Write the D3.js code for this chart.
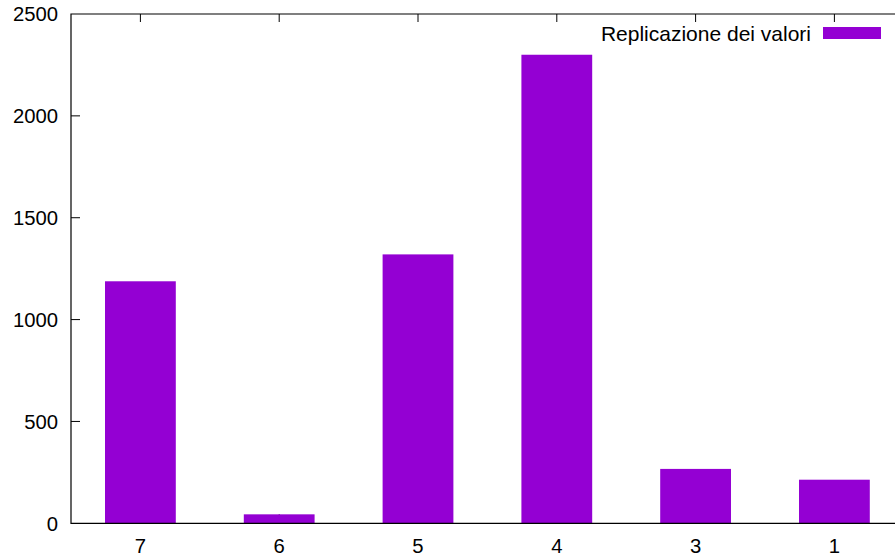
<!DOCTYPE html>
<html>
<head>
<meta charset="utf-8">
<script src="https://cdn.jsdelivr.net/npm/d3@7"></script>
<style>
  html, body { margin: 0; padding: 0; background: #fff; }
  svg { display: block; }
  text { font-family: "Liberation Sans", Arial, Helvetica, sans-serif; fill: #000; }
</style>
</head>
<body>
<svg id="chart" width="895" height="560"></svg>
<script>
const categories = ["7", "6", "5", "4", "3", "1"];
const values = [1188, 44, 1320, 2300, 267, 214];
const yTicks = [0, 500, 1000, 1500, 2000, 2500];
const seriesName = "Replicazione dei valori";
const barColor = "#9400d3";

(function () {
const mLeft = 71, mTop = 14, mBottom = 523.3;
const step = 138.8;
const svg = d3.select("#chart");

const x = d3.scaleLinear().domain([-0.5, categories.length - 0.5]).range([mLeft, mLeft + step * categories.length]);
const y = d3.scaleLinear().domain([0, 2500]).range([mBottom, mTop]);
const boxw = 0.51;
const fs = 20.3;

const gx = svg.append("g");
categories.forEach((c, i) => {
  gx.append("line").attr("x1", x(i)).attr("x2", x(i)).attr("y1", mBottom).attr("y2", mBottom - 9)
    .attr("stroke", "#000").attr("stroke-width", 1);
  gx.append("line").attr("x1", x(i)).attr("x2", x(i)).attr("y1", mTop).attr("y2", mTop + 8)
    .attr("stroke", "#000").attr("stroke-width", 1);
  gx.append("text").attr("x", x(i)).attr("y", 553).attr("text-anchor", "middle")
    .attr("font-size", fs).text(c);
});

const gy = svg.append("g");
yTicks.forEach(t => {
  if (t !== 0 && t !== 2500) {
    gy.append("line").attr("x1", mLeft).attr("x2", mLeft + 9).attr("y1", y(t)).attr("y2", y(t))
      .attr("stroke", "#000").attr("stroke-width", 1);
  }
  gy.append("text").attr("x", 58).attr("y", y(t)).attr("dy", "0.36em").attr("text-anchor", "end")
    .attr("font-size", fs).text(t);
});

svg.append("g").selectAll("rect").data(values).join("rect")
  .attr("x", (d, i) => x(i - boxw / 2))
  .attr("width", x(boxw) - x(0))
  .attr("y", d => y(d))
  .attr("height", d => y(0) - y(d))
  .attr("fill", barColor);

svg.append("path")
  .attr("d", `M${x(categories.length - 0.5)},${mTop}H${mLeft}V${mBottom}H${x(categories.length - 0.5)}`)
  .attr("fill", "none").attr("stroke", "#000").attr("stroke-width", 1.2);

svg.append("text").attr("x", 811).attr("y", 41).attr("text-anchor", "end")
  .attr("font-size", 21).text(seriesName);
svg.append("rect").attr("x", 823).attr("y", 27).attr("width", 58).attr("height", 12).attr("fill", barColor);
})();
</script>
</body>
</html>
